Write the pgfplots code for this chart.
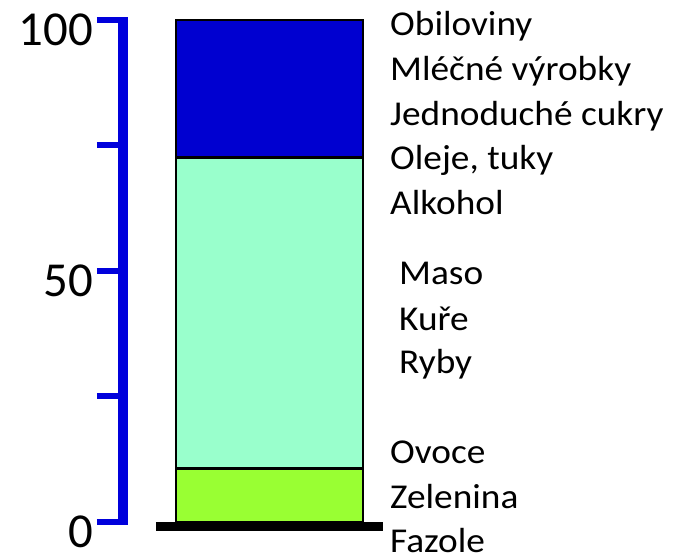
\documentclass[border=0pt]{standalone}
\usepackage{pgfplots}
\pgfplotsset{compat=1.18}
\usepackage{fontspec}
\setmainfont{Carlito}
\definecolor{cgreen}{RGB}{153,255,51}
\definecolor{caqua}{RGB}{153,255,204}
\definecolor{cblue}{RGB}{0,0,208}
\definecolor{caxis}{RGB}{0,0,220}
\tikzset{lab/.style={anchor=base west, inner sep=0pt, xscale=1.07, font=\fontsize{35}{35}\selectfont}}
\begin{document}
\begin{tikzpicture}
\begin{axis}[
  scale only axis,
  width=260bp, height=502bp,
  xmin=123, xmax=383, ymin=0, ymax=100,
  clip=false,
  axis x line=none,
  axis y line=left,
  y axis line style={draw=caxis, line width=10bp, -, shorten <=-3bp, shorten >=-3bp},
  ytick={0,25,50,75,100},
  yticklabels={0,,50,,100},
  tick align=outside,
  major tick length=26bp,
  ytick style={draw=caxis, line width=6bp},
  yticklabel style={font=\fontsize{49}{49}\selectfont, inner sep=0pt, xshift=-4bp, yshift=-10bp},
  /pgf/number format/assume math mode=true,
]
% stacked segments: 0-10.7, 10.7-72.6, 72.6-100
\addplot[fill=cgreen, draw=black, line width=2.5bp] coordinates {(176,0) (363,0) (363,10.7) (176,10.7)} -- cycle;
\addplot[fill=caqua, draw=black, line width=2.5bp] coordinates {(176,10.7) (363,10.7) (363,72.6) (176,72.6)} -- cycle;
\addplot[fill=cblue, draw=black, line width=2.5bp] coordinates {(176,72.6) (363,72.6) (363,100) (176,100)} -- cycle;
\addplot[black, line width=9bp] coordinates {(156,-0.9) (383,-0.9)};
\path (axis cs:0,-6.77) rectangle (axis cs:680,103.98);
\node[lab] at (axis cs:390,96.81) {Obiloviny};
\node[lab] at (axis cs:390,87.85) {Mléčné výrobky};
\node[lab] at (axis cs:390,78.88) {Jednoduché cukry};
\node[lab] at (axis cs:390,70.12) {Oleje, tuky};
\node[lab] at (axis cs:390,61.16) {Alkohol};
\node[lab] at (axis cs:399,47.21) {Maso};
\node[lab] at (axis cs:399,38.05) {Kuře};
\node[lab] at (axis cs:399,29.48) {Ryby};
\node[lab] at (axis cs:390,11.55) {Ovoce};
\node[lab] at (axis cs:390,2.59) {Zelenina};
\node[lab] at (axis cs:390,-5.98) {Fazole};
\end{axis}
\end{tikzpicture}
\end{document}
